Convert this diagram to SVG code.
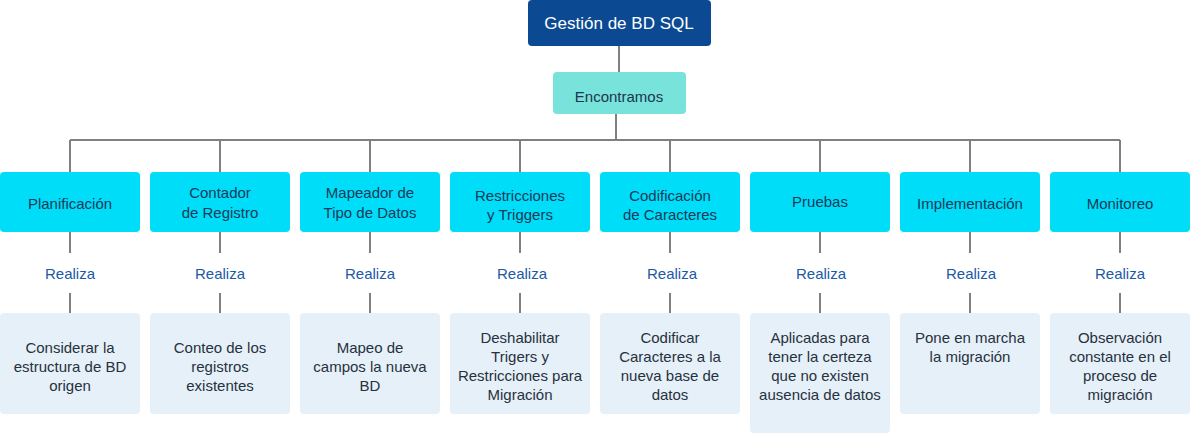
<svg xmlns="http://www.w3.org/2000/svg" width="1190" height="434" viewBox="0 0 1190 434">
<style>
text{font-family:"Liberation Sans",Arial,sans-serif;text-anchor:middle;dominant-baseline:central}
.root{fill:#0B4A92}
.roott{fill:#fff;font-size:17px}
.mid{fill:#78E3DA}
.midt{fill:#1d3550;font-size:15px}
.cat{fill:#00DDF8}
.catt{fill:#173a5a;font-size:15px}
.leaf{fill:#E5F0F9}
.leaft{fill:#28303d;font-size:15px}
.rel{fill:#1b5aa6;font-size:15px}
.ln{stroke:#808080;stroke-width:2;fill:none}
</style>
<g id="connectors">
<path class="ln" d="M619 46V72M616 114V140M70 140H1120"/>
<path class="ln" d="M70 140V172M220 140V172M370 140V172M520 140V172M670 140V172M820 140V172M970 140V172M1120 140V172"/>
<path class="ln" d="M70 232V253M220 232V253M370 232V253M520 232V253M670 232V253M820 232V253M970 232V253M1120 232V253"/>
<path class="ln" d="M70 293V313M220 293V313M370 293V313M520 293V313M670 293V313M820 293V313M970 293V313M1120 293V313"/>
</g>
<g id="root"><rect class="root" x="528" y="0" width="183" height="46" rx="4"/><text class="roott" x="619" y="23">Gestión de BD SQL</text></g>
<g id="encontramos"><rect class="mid" x="553" y="72" width="133" height="42" rx="4"/><text class="midt" x="619" y="96">Encontramos</text></g>

<g id="planificacion"><rect class="cat" x="0" y="172" width="140" height="60" rx="4"/><text class="catt" x="70" y="203">Planificación</text></g>
<g id="contador"><rect class="cat" x="150" y="172" width="140" height="60" rx="4"/><text class="catt" x="220" y="192">Contador</text><text class="catt" x="220" y="212">de Registro</text></g>
<g id="mapeador"><rect class="cat" x="300" y="172" width="140" height="60" rx="4"/><text class="catt" x="370" y="192">Mapeador de</text><text class="catt" x="370" y="212">Tipo de Datos</text></g>
<g id="restricciones"><rect class="cat" x="450" y="172" width="140" height="60" rx="4"/><text class="catt" x="520" y="195">Restricciones</text><text class="catt" x="520" y="214">y Triggers</text></g>
<g id="codificacion"><rect class="cat" x="600" y="172" width="140" height="60" rx="4"/><text class="catt" x="670" y="195">Codificación</text><text class="catt" x="670" y="214">de Caracteres</text></g>
<g id="pruebas"><rect class="cat" x="750" y="172" width="140" height="60" rx="4"/><text class="catt" x="820" y="201">Pruebas</text></g>
<g id="implementacion"><rect class="cat" x="900" y="172" width="140" height="60" rx="4"/><text class="catt" x="970" y="203">Implementación</text></g>
<g id="monitoreo"><rect class="cat" x="1050" y="172" width="140" height="60" rx="4"/><text class="catt" x="1120" y="203">Monitoreo</text></g>

<g id="realiza-labels">
<text class="rel" x="70" y="273">Realiza</text><text class="rel" x="220" y="273">Realiza</text><text class="rel" x="370" y="273">Realiza</text><text class="rel" x="522" y="273">Realiza</text><text class="rel" x="672" y="273">Realiza</text><text class="rel" x="821" y="273">Realiza</text><text class="rel" x="971" y="273">Realiza</text><text class="rel" x="1120" y="273">Realiza</text>
</g>

<g id="leaf1"><rect class="leaf" x="0" y="313" width="140" height="101" rx="4"/><text class="leaft" x="70" y="347">Considerar la</text><text class="leaft" x="70" y="366">estructura de BD</text><text class="leaft" x="70" y="385">origen</text></g>
<g id="leaf2"><rect class="leaf" x="150" y="313" width="140" height="101" rx="4"/><text class="leaft" x="220" y="347">Conteo de los</text><text class="leaft" x="220" y="366">registros</text><text class="leaft" x="220" y="385">existentes</text></g>
<g id="leaf3"><rect class="leaf" x="300" y="313" width="140" height="101" rx="4"/><text class="leaft" x="370" y="347">Mapeo de</text><text class="leaft" x="370" y="366">campos la nueva</text><text class="leaft" x="370" y="385">BD</text></g>
<g id="leaf4"><rect class="leaf" x="450" y="313" width="140" height="101" rx="4"/><text class="leaft" x="520" y="337">Deshabilitar</text><text class="leaft" x="520" y="356">Trigers y</text><text class="leaft" x="520" y="375">Restricciones para</text><text class="leaft" x="520" y="394">Migración</text></g>
<g id="leaf5"><rect class="leaf" x="600" y="313" width="140" height="101" rx="4"/><text class="leaft" x="670" y="337">Codificar</text><text class="leaft" x="670" y="356">Caracteres a la</text><text class="leaft" x="670" y="375">nueva base de</text><text class="leaft" x="670" y="394">datos</text></g>
<g id="leaf6"><rect class="leaf" x="750" y="313" width="140" height="120" rx="4"/><text class="leaft" x="820" y="337">Aplicadas para</text><text class="leaft" x="820" y="356">tener la certeza</text><text class="leaft" x="820" y="375">que no existen</text><text class="leaft" x="820" y="394">ausencia de datos</text></g>
<g id="leaf7"><rect class="leaf" x="900" y="313" width="140" height="101" rx="4"/><text class="leaft" x="970" y="337">Pone en marcha</text><text class="leaft" x="970" y="356">la migración</text></g>
<g id="leaf8"><rect class="leaf" x="1050" y="313" width="140" height="101" rx="4"/><text class="leaft" x="1120" y="337">Observación</text><text class="leaft" x="1120" y="356">constante en el</text><text class="leaft" x="1120" y="375">proceso de</text><text class="leaft" x="1120" y="394">migración</text></g>
</svg>
